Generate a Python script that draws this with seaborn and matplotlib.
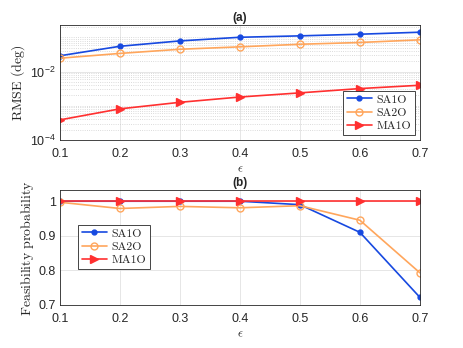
import numpy as np
import pandas as pd
import matplotlib
matplotlib.use("Agg")
import matplotlib.pyplot as plt
import matplotlib.ticker as mticker
import seaborn as sns

# -----------------------------
# DATA
# -----------------------------
eps = [0.1, 0.2, 0.3, 0.4, 0.5, 0.6, 0.7]

rmse_sa1o = [0.029, 0.055, 0.079, 0.101, 0.111, 0.124, 0.142]
rmse_sa2o = [0.0246, 0.034, 0.045, 0.053, 0.063, 0.071, 0.085]
rmse_ma1o = [3.85e-4, 8.1e-4, 1.26e-3, 1.8e-3, 2.38e-3, 3.18e-3, 3.98e-3]

feas_sa1o = [1.0, 1.0, 1.0, 1.0, 0.99, 0.91, 0.722]
feas_sa2o = [0.997, 0.979, 0.985, 0.981, 0.987, 0.945, 0.793]
feas_ma1o = [1.0, 1.0, 1.0, 1.0, 1.0, 1.0, 1.0]

methods = ["SA1O", "SA2O", "MA1O"]

# -----------------------------
# STYLE
# -----------------------------
sns.set_theme(style="white")
plt.rcParams.update({
    "font.family": ["Liberation Sans", "DejaVu Sans"],
    "mathtext.fontset": "cm",
    "font.size": 8,
    "axes.edgecolor": "#262626",
    "axes.linewidth": 0.6,
    "xtick.direction": "in",
    "ytick.direction": "in",
    "xtick.color": "#262626",
    "ytick.color": "#262626",
    "xtick.labelsize": 9,
    "ytick.labelsize": 9,
})

colors = {"SA1O": "#1749e0", "SA2O": "#ffa65c", "MA1O": "#ff3030"}
markers = {"SA1O": "o", "SA2O": "o", "MA1O": ">"}
msizes = {"SA1O": 3.5, "SA2O": 5, "MA1O": 5.5}
faces = {"SA1O": None, "SA2O": "none", "MA1O": None}


def make_df(vals):
    rows = []
    for m, v in zip(methods, vals):
        for e, y in zip(eps, v):
            rows.append({"eps": e, "val": y, "method": m})
    return pd.DataFrame(rows)


def draw(ax, df):
    for m in methods:
        sub = df[df["method"] == m]
        sns.lineplot(
            data=sub, x="eps", y="val", ax=ax,
            color=colors[m], marker=markers[m], markersize=msizes[m],
            markerfacecolor=faces[m] if faces[m] else colors[m],
            markeredgecolor=colors[m], markeredgewidth=1.0,
            linewidth=1.2, label=m
        )


fig = plt.figure(figsize=(4.64, 3.48), dpi=100)
ax1 = fig.add_axes([0.129, 0.598, 0.776, 0.330])
ax2 = fig.add_axes([0.129, 0.1236, 0.776, 0.330])

# -----------------------------
# (a) RMSE
# -----------------------------
draw(ax1, make_df([rmse_sa1o, rmse_sa2o, rmse_ma1o]))
ax1.set_yscale("log")
ax1.set_ylim(1e-4, 0.23)
ax1.set_xlim(0.1, 0.7)
ax1.yaxis.set_major_locator(mticker.LogLocator(base=100))
ax1.yaxis.set_minor_locator(mticker.LogLocator(base=10, subs=np.arange(1, 10), numticks=20))
ax1.yaxis.set_minor_formatter(mticker.NullFormatter())
ax1.grid(True, which="major", color="#dcdcdc", linewidth=0.5)
ax1.grid(True, which="minor", axis="y", color="#cfcfcf", linestyle=":", linewidth=0.6)
ax1.set_title("(a)", fontweight="bold", fontsize=8.5, pad=3)
ax1.set_xlabel(r"$\epsilon$", fontsize=9, labelpad=2)
ax1.set_ylabel(r"$\mathrm{RMSE\ (deg)}$", fontsize=10, labelpad=2)
leg1 = ax1.legend(loc="lower right", fancybox=False, edgecolor="#262626",
                  prop={"family": "cmr10", "size": 8.5}, handlelength=2.1,
                  borderpad=0.3, labelspacing=0.25, handletextpad=0.4,
                  borderaxespad=0.45, framealpha=1)
leg1.get_frame().set_linewidth(0.6)

# -----------------------------
# (b) Feasibility
# -----------------------------
draw(ax2, make_df([feas_sa1o, feas_sa2o, feas_ma1o]))
ax2.set_ylim(0.7, 1.032)
ax2.set_xlim(0.1, 0.7)
ax2.set_yticks([0.7, 0.8, 0.9, 1.0])
ax2.set_yticklabels(["0.7", "0.8", "0.9", "1"])
ax2.grid(True, which="major", color="#dcdcdc", linewidth=0.5)
ax2.set_title("(b)", fontweight="bold", fontsize=8.5, pad=3)
ax2.set_xlabel(r"$\epsilon$", fontsize=9, labelpad=2)
ax2.set_ylabel(r"$\mathrm{Feasibility\ probability}$", fontsize=10, labelpad=2)
leg2 = ax2.legend(loc="upper left", bbox_to_anchor=(0.035, 0.75), fancybox=False,
                  edgecolor="#262626", prop={"family": "cmr10", "size": 8.5},
                  handlelength=2.1, borderpad=0.3, labelspacing=0.25,
                  handletextpad=0.4, framealpha=1)
leg2.get_frame().set_linewidth(0.6)

for ax in (ax1, ax2):
    ax.tick_params(which="both", length=2.5, width=0.5, pad=3)
    ax.tick_params(axis="x", pad=6)
    ax.tick_params(which="minor", length=1.5)
    ax.set_xticks(eps)
    for s in ax.spines.values():
        s.set_color("#262626")

fig.savefig("out.png", dpi=100)
